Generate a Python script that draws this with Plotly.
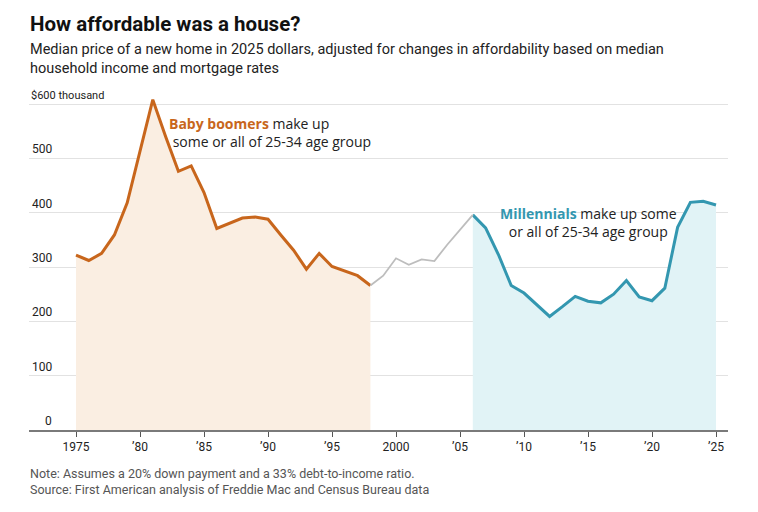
import plotly.graph_objects as go

boomer_years = list(range(1975, 1999))
boomer_vals = [322, 312, 325, 359, 418, 513, 608, 540, 476, 486, 437, 371, 380, 390, 392, 388,
               359, 331, 296, 325, 301, 293, 284, 266]

gap_years = list(range(1998, 2007))
gap_vals = [266, 284, 316, 304, 314, 311, 341, 369, 396]

mill_years = list(range(2006, 2026))
mill_vals = [396, 372, 323, 266, 252, 231, 209, 227, 246, 237, 234, 250, 275, 245, 238, 261,
             373, 419, 421, 414]

ytick_vals = [0, 100, 200, 300, 400, 500, 600]
ytick_text = ["0", "100", "200", "300", "400", "500", "$600 thousand"]
xtick_vals = [1975, 1980, 1985, 1990, 1995, 2000, 2005, 2010, 2015, 2020, 2025]
xtick_text = ["1975", "’80", "’85", "’90", "’95", "2000", "’05", "’10", "’15", "’20", "’25"]

# page body has an 8px margin; work in reference pixel coords and shift
OFF = 8
W, H = 758 - OFF, 512 - OFF
PL, PR, PT, PB = 29, 728, 93, 430          # plot box in reference pixels
L, R, T, B = PL - OFF, W - (PR - OFF), PT - OFF, H - (PB - OFF)
PW, PH = W - L - R, H - T - B

def px(x):
    return (x - OFF - L) / PW

def py(y):
    return (H - B - (y - OFF)) / PH

ORANGE = "#c8661c"
TEAL = "#3397b0"
GRAY = "#bdbdbd"
NARROW = "Roboto, sans-serif"
WIDE = "Open Sans, Noto Sans, sans-serif"

fig = go.Figure()
fig.add_trace(go.Scatter(x=boomer_years, y=boomer_vals, mode="lines", fill="tozeroy",
                         fillcolor="#faeee2", line=dict(color=ORANGE, width=3),
                         hoverinfo="skip", showlegend=False))
fig.add_trace(go.Scatter(x=mill_years, y=mill_vals, mode="lines", fill="tozeroy",
                         fillcolor="#e1f3f6", line=dict(color=TEAL, width=3),
                         hoverinfo="skip", showlegend=False))
fig.add_trace(go.Scatter(x=gap_years, y=gap_vals, mode="lines",
                         line=dict(color=GRAY, width=1.8),
                         hoverinfo="skip", showlegend=False))

# white box behind millennials label (under the line, over the grid)
fig.add_shape(type="rect", xref="paper", yref="paper", x0=px(497), x1=px(676),
              y0=py(222), y1=py(205), fillcolor="white", line=dict(width=0), layer="between")

# y labels above gridlines
for v, t in zip(ytick_vals, ytick_text):
    if v == 600:
        fig.add_annotation(xref="paper", yref="y", x=px(29), y=v, text=t, showarrow=False,
                           xanchor="left", yanchor="bottom", yshift=0,
                           font=dict(family=NARROW, size=11, color="#222"))
    else:
        fig.add_annotation(xref="paper", yref="y", x=px(54), y=v, text=t, showarrow=False,
                           xanchor="right", yanchor="bottom", yshift=0,
                           font=dict(family=NARROW, size=12, color="#222"))

# series annotations
fig.add_annotation(xref="paper", yref="paper", x=px(167), y=py(132), xanchor="left",
                   yanchor="middle", showarrow=False, align="left",
                   text=f"<b><span style='color:{ORANGE}'>Baby boomers</span></b> make up<br> some or all of 25-34 age group",
                   font=dict(family=WIDE, size=14, color="#222"))
fig.add_annotation(xref="paper", yref="paper", x=px(588), y=py(222), xanchor="center",
                   yanchor="middle", showarrow=False, align="center",
                   text=f"<b><span style='color:{TEAL}'>Millennials</span></b> make up some<br>or all of 25-34 age group",
                   font=dict(family=WIDE, size=14, color="#222"))

# titles
fig.add_annotation(xref="paper", yref="paper", x=px(28), y=py(24), xanchor="left", yanchor="middle",
                   showarrow=False, text="<b>How affordable was a house?</b>",
                   font=dict(family=NARROW, size=20.5, color="#111"))
fig.add_annotation(xref="paper", yref="paper", x=px(28), y=py(59), xanchor="left", yanchor="middle",
                   showarrow=False, align="left",
                   text="Median price of a new home in 2025 dollars, adjusted for changes in affordability based on median<br>household income and mortgage rates",
                   font=dict(family=NARROW, size=14.5, color="#222"))
fig.add_annotation(xref="paper", yref="paper", x=px(28), y=py(481), xanchor="left", yanchor="middle",
                   showarrow=False, align="left",
                   text="Note: Assumes a 20% down payment and a 33% debt-to-income ratio.<br>Source: First American analysis of Freddie Mac and Census Bureau data",
                   font=dict(family=NARROW, size=12.5, color="#555"))

x0 = 1975 - (76 - PL) / 12.8
x1 = 1975 + (PR - 76) / 12.8
y_top = 600 + (104 - PT) / ((PB - 104) / 600)
fig.update_layout(
    width=W, height=H, margin=dict(l=L, r=R, t=T, b=B),
    paper_bgcolor="white", plot_bgcolor="white",
    xaxis=dict(range=[x0, x1], tickvals=xtick_vals, ticktext=xtick_text, showgrid=False,
               showline=True, linecolor="#7a7a7a", linewidth=2, ticks="outside", ticklen=5,
               tickcolor="#555", tickwidth=1, zeroline=False,
               tickfont=dict(family=NARROW, size=12, color="#222")),
    yaxis=dict(range=[0, y_top], tickvals=ytick_vals,
               showticklabels=False, showgrid=True,
               gridcolor="#e2e2e2", gridwidth=1, zeroline=False, showline=False),
)
fig.write_html("out.html")
